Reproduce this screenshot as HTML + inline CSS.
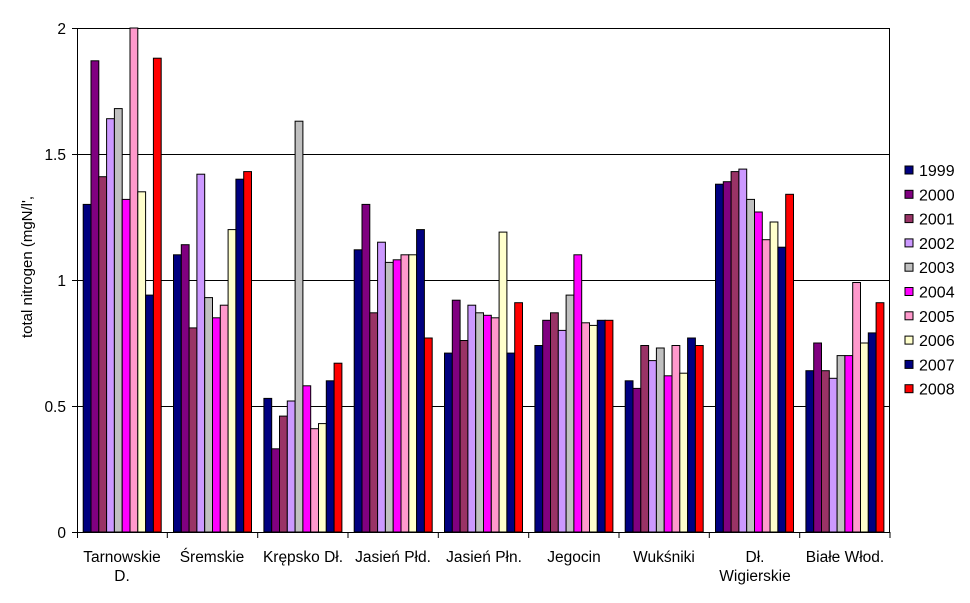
<!DOCTYPE html>
<html><head><meta charset="utf-8"><style>
html,body{margin:0;padding:0;background:#fff;}
svg{display:block;font-family:"Liberation Sans",Arial,sans-serif;}
</style></head><body>
<svg id="s" width="970" height="603" viewBox="0 0 970 603" xmlns="http://www.w3.org/2000/svg">
<g stroke="#000" stroke-width="1">
<line x1="77" y1="28.5" x2="890" y2="28.5"/>
<line x1="77" y1="154.5" x2="890" y2="154.5"/>
<line x1="77" y1="280.5" x2="890" y2="280.5"/>
<line x1="77" y1="406.5" x2="890" y2="406.5"/>
<line x1="889.5" y1="28" x2="889.5" y2="532"/>
</g>
<g id="bars"></g>
<g stroke="#000" stroke-width="1">
<line x1="77.5" y1="28" x2="77.5" y2="532"/>
<line x1="77" y1="532.5" x2="890" y2="532.5"/>
<line x1="72" y1="28.5" x2="77" y2="28.5"/>
<line x1="72" y1="154.5" x2="77" y2="154.5"/>
<line x1="72" y1="280.5" x2="77" y2="280.5"/>
<line x1="72" y1="406.5" x2="77" y2="406.5"/>
<line x1="72" y1="532.5" x2="77" y2="532.5"/>
</g>
<g id="xt" stroke="#000"></g>
<g font-size="15.5" text-anchor="end" fill="#000">
<text x="66" y="34">2</text>
<text x="66" y="160">1.5</text>
<text x="66" y="286">1</text>
<text x="66" y="412">0.5</text>
<text x="66" y="538">0</text>
</g>
<text transform="translate(32,267) rotate(-90)" font-size="15" text-anchor="middle">total nitrogen (mgN/l',</text>
<g font-size="15.5" text-anchor="middle">
<text x="122" y="562">Tarnowskie</text><text x="122" y="581">D.</text>
<text x="212" y="562">Śremskie</text>
<text x="303" y="562">Krępsko Dł.</text>
<text x="393" y="562">Jasień Płd.</text>
<text x="484" y="562">Jasień Płn.</text>
<text x="574" y="562">Jegocin</text>
<text x="664" y="562">Wukśniki</text>
<text x="755" y="562">Dł.</text><text x="755" y="581">Wigierskie</text>
<text x="845" y="562">Białe Włod.</text>
</g>
<g id="leg" font-size="16"></g>
</svg>
<script>
var cols=["#000080","#800080","#993366","#CC99FF","#C0C0C0","#FF00FF","#FF99CC","#FFFFCC","#000080","#FF0000"];
var d=[[1.30,1.87,1.41,1.64,1.68,1.32,2.01,1.35,0.94,1.88],
[1.10,1.14,0.81,1.42,0.93,0.85,0.90,1.20,1.40,1.43],
[0.53,0.33,0.46,0.52,1.63,0.58,0.41,0.43,0.60,0.67],
[1.12,1.30,0.87,1.15,1.07,1.08,1.10,1.10,1.20,0.77],
[0.71,0.92,0.76,0.90,0.87,0.86,0.85,1.19,0.71,0.91],
[0.74,0.84,0.87,0.80,0.94,1.10,0.83,0.82,0.84,0.84],
[0.60,0.57,0.74,0.68,0.73,0.62,0.74,0.63,0.77,0.74],
[1.38,1.39,1.43,1.44,1.32,1.27,1.16,1.23,1.13,1.34],
[0.64,0.75,0.64,0.61,0.70,0.70,0.99,0.75,0.79,0.91]];
var NS="http://www.w3.org/2000/svg",g=document.getElementById("bars"),gw=813/9,w=7.8;
function el(n,a,p){var e=document.createElementNS(NS,n);for(var k in a)e.setAttribute(k,a[k]);p.appendChild(e);return e;}
for(var i=0;i<9;i++){for(var j=0;j<10;j++){var v=Math.min(d[i][j],2.0);var y=532-v*252;var x=77+i*gw+6.2+j*w;
el("rect",{x:x.toFixed(1),y:y.toFixed(1),width:w,height:(532-y).toFixed(1),fill:cols[j],stroke:"#000","stroke-width":1},g);}
el("line",{x1:(77+(i+1)*gw).toFixed(1),y1:532,x2:(77+(i+1)*gw).toFixed(1),y2:538},document.getElementById("xt"));}
el("line",{x1:77.5,y1:532,x2:77.5,y2:538},document.getElementById("xt"));
var L=document.getElementById("leg");
for(var j=0;j<10;j++){var y=166+j*24.3;el("rect",{x:905,y:y,width:8,height:8,fill:cols[j],stroke:"#000","stroke-width":1},L);
var t=el("text",{x:919,y:y+10},L);t.textContent=String(1999+j);}
</script>
</body></html>
